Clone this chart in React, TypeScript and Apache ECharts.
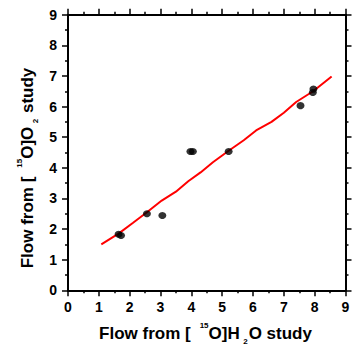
import React, { useEffect, useRef } from "react";
import * as echarts from "echarts";

const scatterX = [1.64, 1.72, 2.56, 3.06, 3.97, 4.05, 5.21, 7.54, 7.94, 7.96];
const scatterY = [1.83, 1.79, 2.5, 2.44, 4.53, 4.53, 4.53, 6.03, 6.46, 6.57];

const fitX = [1.08, 1.65, 2.1, 2.56, 3.04, 3.5, 3.9, 4.3, 4.7, 5.2, 5.7, 6.1, 6.6, 7.0, 7.4, 7.95, 8.55];
const fitY = [1.5, 1.86, 2.2, 2.55, 2.93, 3.22, 3.56, 3.85, 4.18, 4.55, 4.9, 5.22, 5.5, 5.8, 6.15, 6.5, 6.98];

const tickMin = 0;
const tickMax = 9;
const tickStep = 1;

const xTitle = "{t|Flow from [}{sup|15}{t|O]H}{sub|2}{t|O study}";
const yTitle = "{t|Flow from [}{sup|15}{t|O]O}{sub|2}{t| study}";

const FONT = "'Liberation Sans', Arial, sans-serif";

export default function App() {
  const ref = useRef<HTMLDivElement>(null);
  useEffect(() => {
    if (!ref.current) return;
    const chart = echarts.init(ref.current, undefined, { renderer: "svg" });
    const rich = {
      t: { fontSize: 17, fontWeight: "bold", fontFamily: FONT, fill: "#000", color: "#000", lineHeight: 24 },
      sup: { fontSize: 8, fontWeight: "bold", fontFamily: FONT, fill: "#000", color: "#000", verticalAlign: "top", lineHeight: 10, padding: [0, 0, 0, 9] },
      sub: { fontSize: 8, fontWeight: "bold", fontFamily: FONT, fill: "#000", color: "#000", verticalAlign: "bottom", lineHeight: 14, padding: [0, 1, 0, 3.5] },
    };
    const baseAxis = {
      min: tickMin,
      max: tickMax,
      interval: tickStep,
      axisLine: { show: true, onZero: false, lineStyle: { color: "#000", width: 2 } },
      axisTick: { show: true, inside: false, length: 6, lineStyle: { color: "#000", width: 1.5 } },
      minorTick: { show: true, splitNumber: 2, length: 3, lineStyle: { color: "#000", width: 1.5 } },
      splitLine: { show: false },
    };
    const labelStyle = { fontSize: 14, fontWeight: "bold", fontFamily: FONT, color: "#000" };
    chart.setOption({
      animation: false,
      backgroundColor: "#fff",
      grid: { left: 68, right: 12.5, top: 14.7, bottom: 54.7, containLabel: false },
      graphic: [
        {
          type: "text",
          x: 205.5,
          y: 333,
          style: { text: xTitle, rich, align: "center", verticalAlign: "middle" },
        },
        {
          type: "text",
          x: 27.5,
          y: 168,
          rotation: Math.PI / 2,
          style: { text: yTitle, rich, align: "center", verticalAlign: "middle" },
        },
      ],
      xAxis: [
        {
          ...baseAxis,
          type: "value",
          position: "bottom",
          axisLabel: { ...labelStyle, margin: 10, showMaxLabel: true, showMinLabel: true },
        },
        {
          ...baseAxis,
          type: "value",
          position: "top",
          axisLabel: { show: false },
        },
      ],
      yAxis: [
        {
          ...baseAxis,
          type: "value",
          position: "left",
          axisLabel: { ...labelStyle, margin: 11, showMaxLabel: true, showMinLabel: true },
        },
        {
          ...baseAxis,
          type: "value",
          position: "right",
          axisLabel: { show: false },
        },
      ],
      series: [
        {
          type: "line",
          data: fitX.map((x, i) => [x, fitY[i]]),
          showSymbol: false,
          symbol: "none",
          lineStyle: { color: "#ff0000", width: 2 },
          z: 2,
        },
        {
          type: "scatter",
          data: scatterX.map((x, i) => [x, scatterY[i]]),
          symbol: "circle",
          symbolSize: [8, 7],
          itemStyle: { color: "#000" },
          z: 3,
        },
      ],
    });
    return () => chart.dispose();
  }, []);
  return <div ref={ref} style={{ position: "fixed", left: 0, top: 0, width: 358, height: 345 }} />;
}
